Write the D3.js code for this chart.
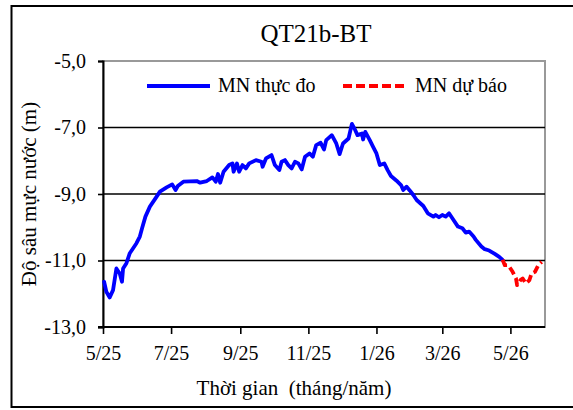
<!DOCTYPE html>
<html><head><meta charset="utf-8">
<script src="https://cdn.jsdelivr.net/npm/d3@7"></script>
<style>
html,body{margin:0;padding:0;background:#fff;}
svg{display:block;}
svg text{font-family:"Liberation Serif","Times New Roman","DejaVu Serif",serif;}
</style></head>
<body>
<svg id="chart" width="573" height="410"></svg>
<script>
const chartTitle = "QT21b-BT";
const yTicks = [-5, -7, -9, -11, -13];
const xTickDates = ["2025-05-01","2025-07-01","2025-09-01","2025-11-01","2026-01-01","2026-03-01","2026-05-01"];
const xTickLabels = ["5/25","7/25","9/25","11/25","1/26","3/26","5/26"];
const observedDates = ["2025-05-02","2025-05-04","2025-05-07","2025-05-10","2025-05-13","2025-05-16","2025-05-18","2025-05-19","2025-05-22","2025-05-25","2025-05-31","2025-06-03","2025-06-05","2025-06-08","2025-06-12","2025-06-17","2025-06-21","2025-06-27","2025-07-02","2025-07-05","2025-07-07","2025-07-12","2025-07-24","2025-07-27","2025-08-02","2025-08-07","2025-08-10","2025-08-12","2025-08-14","2025-08-17","2025-08-22","2025-08-25","2025-08-26","2025-08-29","2025-08-31","2025-09-03","2025-09-06","2025-09-09","2025-09-15","2025-09-20","2025-09-21","2025-09-24","2025-09-29","2025-10-02","2025-10-06","2025-10-08","2025-10-11","2025-10-14","2025-10-17","2025-10-20","2025-10-23","2025-10-26","2025-10-29","2025-11-02","2025-11-05","2025-11-08","2025-11-12","2025-11-15","2025-11-17","2025-11-22","2025-11-26","2025-11-29","2025-12-02","2025-12-07","2025-12-10","2025-12-13","2025-12-15","2025-12-19","2025-12-20","2025-12-22","2025-12-26","2025-12-29","2026-01-01","2026-01-04","2026-01-08","2026-01-11","2026-01-14","2026-01-19","2026-01-23","2026-01-25","2026-01-28","2026-01-31","2026-02-03","2026-02-06","2026-02-12","2026-02-16","2026-02-21","2026-02-23","2026-02-26","2026-03-01","2026-03-04","2026-03-07","2026-03-10","2026-03-15","2026-03-19","2026-03-22","2026-03-25","2026-03-29","2026-03-31","2026-04-05","2026-04-08","2026-04-12","2026-04-17","2026-04-21","2026-04-24"];
const observedValues = [-11.64,-11.94,-12.11,-11.89,-11.24,-11.39,-11.64,-11.24,-11.08,-10.78,-10.48,-10.28,-10.03,-9.68,-9.38,-9.13,-8.93,-8.80,-8.71,-8.88,-8.76,-8.63,-8.61,-8.66,-8.61,-8.50,-8.63,-8.40,-8.66,-8.33,-8.13,-8.08,-8.33,-8.08,-8.33,-8.13,-8.23,-8.08,-7.98,-8.03,-8.18,-7.93,-7.83,-8.13,-8.28,-8.03,-7.98,-8.13,-8.23,-8.03,-8.08,-8.26,-7.88,-7.78,-7.88,-7.53,-7.46,-7.66,-7.38,-7.23,-7.48,-7.80,-7.48,-7.33,-6.89,-7.08,-7.23,-7.18,-7.36,-7.13,-7.38,-7.58,-7.78,-8.13,-8.08,-8.28,-8.46,-8.60,-8.73,-8.88,-8.78,-8.90,-9.03,-9.18,-9.36,-9.58,-9.68,-9.63,-9.70,-9.63,-9.68,-9.58,-9.73,-9.98,-10.03,-10.16,-10.13,-10.28,-10.38,-10.58,-10.66,-10.70,-10.80,-10.89,-10.98];
const forecastDates = ["2026-04-24","2026-04-26","2026-04-29","2026-05-03","2026-05-06","2026-05-07","2026-05-10","2026-05-12","2026-05-15","2026-05-18","2026-05-20","2026-05-23","2026-05-26","2026-05-29"];
const forecastValues = [-10.98,-11.14,-11.14,-11.34,-11.54,-11.74,-11.59,-11.54,-11.69,-11.59,-11.39,-11.34,-11.14,-11.04];
const legendLabels = ["MN thực đo","MN dự báo"];
const yTitle = "Độ sâu mực nước (m)";
const xTitle = "Thời gian  (tháng/năm)";

const FONT = '"Liberation Serif","Times New Roman","DejaVu Serif",serif';
const parse = d3.utcParse("%Y-%m-%d");
const svg = d3.select("#chart");
const L = 103, R = 545, T = 61, B = 327;
const x = d3.scaleUtc().domain([parse("2025-05-01"), parse("2026-06-01")]).range([L, R]);
const y = d3.scaleLinear().domain([-13, -5]).range([B, T]);

// outer frame
svg.append("rect").attr("x",11.5).attr("y",6).attr("width",600).attr("height",401)
  .attr("fill","none").attr("stroke","#000").attr("stroke-width",2);

// plot area border (gray)
svg.append("rect").attr("x",L).attr("y",T).attr("width",R-L).attr("height",B-T)
  .attr("fill","none").attr("stroke","#999").attr("stroke-width",2);

// gridlines
svg.append("g").selectAll("line").data(yTicks.filter(v => v > -13 && v < -5)).join("line")
  .attr("x1",L).attr("x2",R).attr("y1",d=>y(d)).attr("y2",d=>y(d))
  .attr("stroke","#000").attr("stroke-width",1.6);

// y axis
const fmt = v => d3.format(".1f")(v).replace(".", ",").replace("−","-");
const yAxis = d3.axisLeft(y).tickValues(yTicks).tickSize(5).tickPadding(12).tickFormat(fmt);
const gy = svg.append("g").attr("transform",`translate(${L},0)`).call(yAxis);
gy.attr("font-family", FONT);
gy.select(".domain").attr("stroke","#000").attr("stroke-width",2);
gy.selectAll(".tick line").attr("stroke","#000").attr("stroke-width",1.6);
gy.selectAll("text").attr("font-size",20).attr("fill","#000");

// x axis
const xAxis = d3.axisBottom(x).tickValues(xTickDates.map(parse)).tickSize(7).tickPadding(12)
  .tickFormat((d,i) => xTickLabels[i]);
const gx = svg.append("g").attr("transform",`translate(0,${B})`).call(xAxis);
gx.attr("font-family", FONT);
gx.select(".domain").attr("stroke","#000").attr("stroke-width",2).attr("d",`M${L-5},0H${R}`);
gx.selectAll(".tick line").attr("stroke","#000").attr("stroke-width",1.6);
gx.selectAll("text").attr("font-size",20).attr("fill","#000");

// lines
const line = d3.line().x(d=>x(d[0])).y(d=>y(d[1])).curve(d3.curveLinear);
const obs = observedDates.map((d,i)=>[parse(d), observedValues[i]]);
const fc = forecastDates.map((d,i)=>[parse(d), forecastValues[i]]);
svg.append("path").datum(obs).attr("d",line).attr("fill","none")
  .attr("stroke","#0000ff").attr("stroke-width",3.8).attr("stroke-linejoin","round").attr("stroke-linecap","round");
svg.append("path").datum(fc).attr("d",line).attr("fill","none")
  .attr("stroke","#ff0000").attr("stroke-width",3.8).attr("stroke-dasharray","8,4").attr("stroke-linejoin","round");

// title
svg.append("text").attr("x",316).attr("y",42).attr("text-anchor","middle")
  .attr("font-family",FONT).attr("font-size",25).text(chartTitle);

// legend
const lg = svg.append("g").attr("font-family",FONT);
lg.append("line").attr("x1",147).attr("x2",210).attr("y1",86).attr("y2",86)
  .attr("stroke","#0000ff").attr("stroke-width",3.8);
lg.append("text").attr("x",218).attr("y",92).attr("font-size",20).text(legendLabels[0]);
lg.append("line").attr("x1",343).attr("x2",408).attr("y1",86).attr("y2",86)
  .attr("stroke","#ff0000").attr("stroke-width",3.8).attr("stroke-dasharray","9,4");
lg.append("text").attr("x",415).attr("y",92).attr("font-size",20).text(legendLabels[1]);

// axis titles
svg.append("text").attr("transform","translate(36,194) rotate(-90)").attr("text-anchor","middle")
  .attr("font-family",FONT).attr("font-size",21).text(yTitle);
svg.append("text").attr("x",294).attr("y",395).attr("text-anchor","middle")
  .attr("font-family",FONT).attr("font-size",21).style("white-space","pre").text(xTitle);
</script>
</body></html>
